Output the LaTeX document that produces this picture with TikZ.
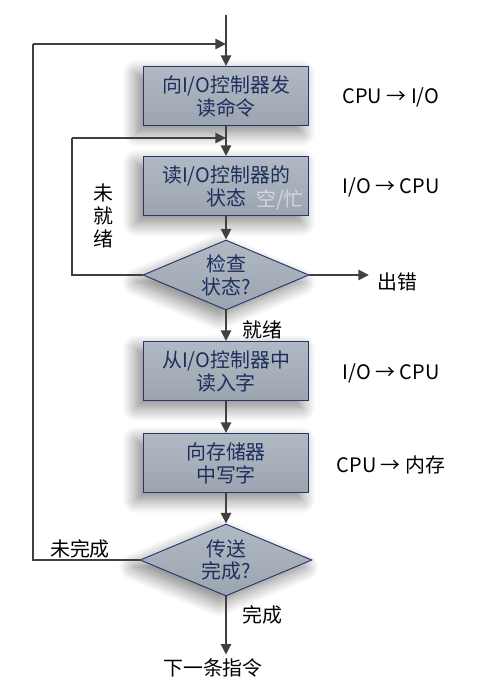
\documentclass[tikz,border=0pt]{standalone}
\usepackage{fontspec}
\setmainfont{Noto Sans CJK SC}
\usetikzlibrary{arrows.meta,shapes.geometric,shadows.blur}

\definecolor{boxfill}{HTML}{A3ADB9}
\definecolor{boxline}{HTML}{26386A}
\definecolor{boxtext}{HTML}{1E2F5E}
\definecolor{wire}{HTML}{404040}

\begin{document}
\begin{tikzpicture}[x=0.03cm, y=-0.03cm,
    every node/.style={font=\fontsize{17}{19.6}\selectfont, align=center},
    stepbox/.style={draw=boxline, line width=0.8pt, text=boxtext,
        top color=boxfill!85!white, bottom color=boxfill!95!black,
        minimum width=4.95cm, minimum height=1.77cm,
        blur shadow={shadow xshift=-6pt, shadow yshift=-6pt, shadow opacity=50, shadow blur steps=14, shadow blur radius=12pt}},
    testbox/.style={stepbox, diamond, aspect=2.37, inner sep=0pt},
    wire/.style={draw=wire, line width=2.3pt},
    flow/.style={wire, -{Triangle[length=9pt, width=8.5pt]}}]
    \useasboundingbox (0,0) rectangle (485,682);

                \coordinate (top) at (226,15);
                \node[stepbox] (rd) at (226,96) {向I/O控制器发\\读命令};
                \node[stepbox] (st) at (226,186) {读I/O控制器的\\状态};
                \node[testbox, minimum width=4.98cm, minimum height=2.1cm] (chk) at (226,275) {检查\\状态?};
                \node[stepbox] (in) at (226,371) {从I/O控制器中\\读入字};
                \node[stepbox] (wr) at (226,463) {向存储器\\中写字};
                \node[testbox, minimum width=5.16cm, minimum height=2.16cm] (done) at (226,560) {传送\\完成?};
                \node (next) at (213,668) {下一条指令};
                \node[anchor=west, inner sep=1pt] (err) at (376,282) {出错};

                % faint stamp on the status box
                \node[text=white, opacity=0.55, font=\fontsize{17}{19.6}\selectfont\itshape] at (280,200) {空/忙};

                % bus direction notes
                \node at (391,97) {CPU → I/O};
                \node at (391,187) {I/O → CPU};
                \node at (391,373) {I/O → CPU};
                \node at (391,465) {CPU → 内存};

                % loops back
                \coordinate (l1) at (33,44);
                \coordinate (j1) at (226,44);
                \coordinate (l2) at (72,138);
                \coordinate (j2) at (226,138);

                \path[flow] (top) -- (rd.north);
                \path[flow] (rd) -- (st);
                \path[flow] (st) -- (chk);
                \path[flow] (chk.south) -- (in.north);
                \node at (262,330) {就绪};
                \path[flow] (in) -- (wr);
                \path[flow] (wr) -- (done);
                \path[flow] (done.south) -- (done.south |- next.north);
                \node at (262,615) {完成};
                \path[flow] (chk.east) -- ([xshift=-6pt]chk.east -| err.west);

                \path[wire] (chk.west) -| (l2);
                \path[flow] (l2) -- (j2);
                \node at (103,216) {未\\就\\绪};

                \path[wire] (done.west) -| (l1);
                \path[flow] (l1) -- (j1);
                \node at (80,549) {未完成};
\end{tikzpicture}
\end{document}
